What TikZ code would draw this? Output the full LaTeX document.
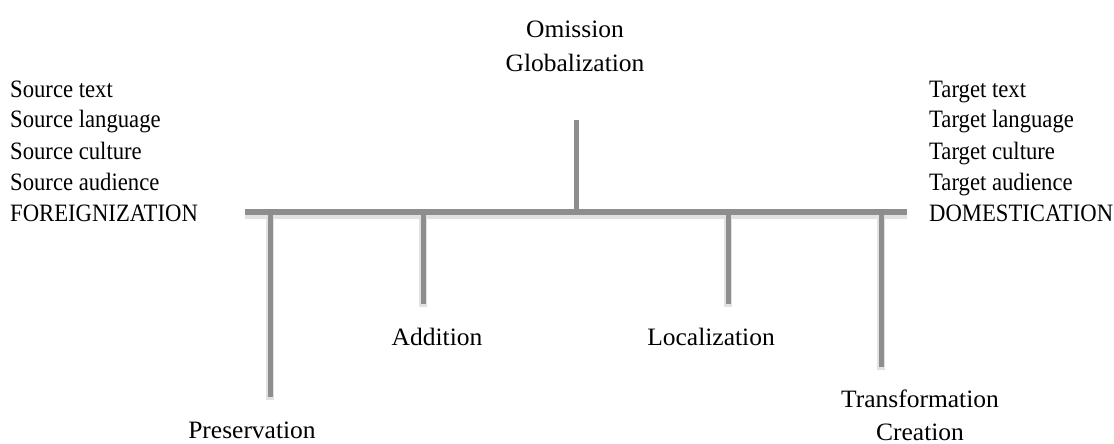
\documentclass[tikz,border=0pt]{standalone}
\usepackage{fontspec}
\setmainfont{Liberation Serif}
\newfontfamily\sidefont{Liberation Serif}[FakeStretch=0.907]
\newfontfamily\lblfont{Liberation Serif}[FakeStretch=1.02]
\definecolor{bargray}{HTML}{8E8E8E}
\definecolor{shadowgray}{HTML}{E2E2E2}
\begin{document}
\begin{tikzpicture}[x=1pt,y=-1pt,
  barline/.style={line width=6.5pt, draw=bargray},
  stubline/.style={line width=5pt, draw=bargray},
  shadeline/.style={line width=8pt, draw=shadowgray, transform canvas={yshift=-2.5pt}},
  side/.style={font=\sidefont\fontsize{25}{31}\selectfont, inner sep=0pt, anchor=base west},
  lbl/.style={font=\lblfont\fontsize{25}{31}\selectfont, inner sep=0pt, anchor=base}]
\useasboundingbox (0,0) rectangle (1114,444);
% junctions and ends
\coordinate (L) at (245,212);
\coordinate (R) at (907,212);
\coordinate (jP) at (270,212); \coordinate (eP) at (270,397);
\coordinate (jA) at (423,212); \coordinate (eA) at (423,304);
\coordinate (jC) at (576,212); \coordinate (eC) at (576,120);
\coordinate (jL) at (728,212); \coordinate (eL) at (728,304);
\coordinate (jT) at (881,212); \coordinate (eT) at (881,367);
% shadows
\draw[shadeline] (L) -- (R);
\draw[shadeline] (jP) -- (eP);
\draw[shadeline] (jA) -- (eA);
\draw[shadeline] (jL) -- (eL);
\draw[shadeline] (jT) -- (eT);
% lines
\draw[stubline] (jC) -- (eC);
\draw[stubline] (jP) -- (eP);
\draw[stubline] (jA) -- (eA);
\draw[stubline] (jL) -- (eL);
\draw[stubline] (jT) -- (eT);
\draw[barline] (L) -- (R);
% left block
\node[side] (s1) at (10,97) {Source text};
\node[side] (s2) at (10,128) {Source language};
\node[side] (s3) at (10,159) {Source culture};
\node[side] (s4) at (10,190) {Source audience};
\node[side] (s5) at (10,221) {FOREIGNIZATION};
% right block
\node[side] (t1) at (929,97) {Target text};
\node[side] (t2) at (929,128) {Target language};
\node[side] (t3) at (929,159) {Target culture};
\node[side] (t4) at (929,190) {Target audience};
\node[side] (t5) at (929,221) {DOMESTICATION};
% labels
\node[lbl] (om) at (575,38) {Omission};
\node[lbl] (gl) at (575,72) {Globalization};
\node[lbl] (pr) at (252,438) {Preservation};
\node[lbl] (ad) at (437,345) {Addition};
\node[lbl] (lo) at (711,345) {Localization};
\node[lbl] (tr) at (920,407) {Transformation};
\node[lbl] (cr) at (920,440) {Creation};
\end{tikzpicture}
\end{document}
